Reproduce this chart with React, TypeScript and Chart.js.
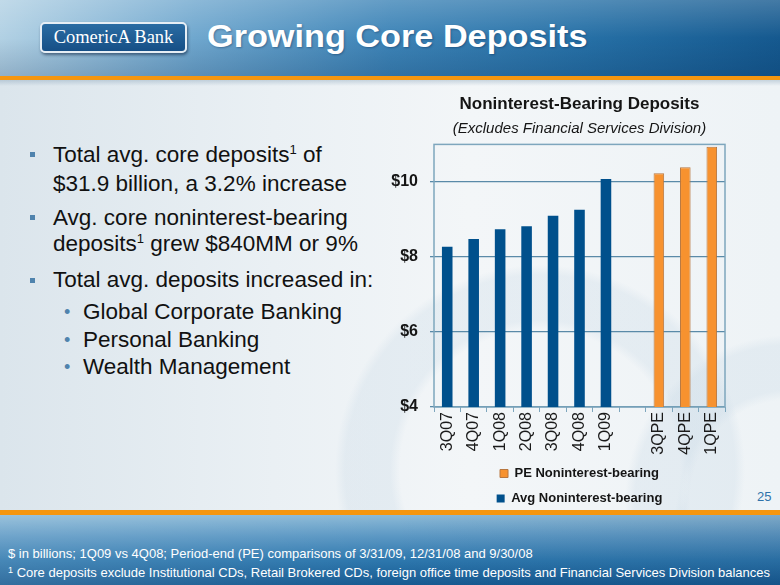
import React, { useEffect, useRef } from "react";
import { Chart, registerables } from "chart.js";

Chart.register(...registerables);

const categories = ["3Q07", "4Q07", "1Q08", "2Q08", "3Q08", "4Q08", "1Q09", "", "3QPE", "4QPE", "1QPE"];
const avgValues = [8.27, 8.48, 8.74, 8.82, 9.1, 9.26, 10.08, null, null, null, null];
const peValues = [null, null, null, null, null, null, null, null, 10.23, 10.39, 10.94];
const yMin = 4;
const yMax = 11;
const yStep = 2;

const chartTitle = "Noninterest-Bearing Deposits";
const chartSubtitle = "(Excludes Financial Services Division)";
const peLabel = "PE Noninterest-bearing";
const avgLabel = "Avg Noninterest-bearing";

const FONT = '"Liberation Sans", Arial, Helvetica, sans-serif';

const framePlugin = {
  id: "frame",
  beforeDatasetsDraw(chart: any) {
    const { ctx, chartArea } = chart;
    ctx.save();
    ctx.strokeStyle = "#7ea6bd";
    ctx.lineWidth = 1.5;
    ctx.strokeRect(chartArea.left, chartArea.top, chartArea.right - chartArea.left, chartArea.bottom - chartArea.top);
    ctx.restore();
  },
};

function DepositsChart() {
  const ref = useRef<HTMLCanvasElement | null>(null);
  useEffect(() => {
    if (!ref.current) return;
    const chart = new Chart(ref.current, {
      type: "bar",
      data: {
        labels: categories,
        datasets: [
          {
            label: peLabel,
            data: peValues,
            backgroundColor: "#f7922f",
            borderColor: "#b8773f",
            borderWidth: 1,
            barPercentage: 0.4,
            categoryPercentage: 1,
          },
          {
            label: avgLabel,
            data: avgValues,
            backgroundColor: "#00508c",
            borderColor: "#00508c",
            borderWidth: 0,
            barPercentage: 0.4,
            categoryPercentage: 1,
          },
        ],
      },
      options: {
        responsive: false,
        animation: false,
        devicePixelRatio: 1,
        layout: { padding: { left: 0, right: 13, top: 0, bottom: 0 } },
        plugins: {
          title: {
            display: true,
            fullSize: false,
            text: chartTitle,
            color: "#151515",
            font: { family: FONT, size: 17, weight: "bold" },
            padding: { top: 6, bottom: 0 },
          },
          subtitle: {
            display: true,
            fullSize: false,
            text: chartSubtitle,
            color: "#151515",
            font: { family: FONT, size: 15, style: "italic", weight: "normal" },
            padding: { top: 5, bottom: 7 },
          },
          legend: {
            display: true,
            fullSize: false,
            position: "bottom",
            labels: {
              boxWidth: 8,
              boxHeight: 8,
              padding: 12,
              color: "#151515",
              font: { family: FONT, size: 13, weight: "bold" },
            },
          },
          tooltip: { enabled: false },
        },
        scales: {
          x: {
            stacked: true,
            offset: true,
            grid: {
              display: true,
              drawOnChartArea: false,
              drawTicks: true,
              tickLength: 5,
              color: "#7ea6bd",
              offset: true,
            },
            border: { display: false },
            ticks: {
              autoSkip: false,
              minRotation: 90,
              maxRotation: 90,
              padding: 0,
              color: "#1a1a1a",
              font: { family: FONT, size: 16 },
            },
            afterFit(scale: any) {
              scale.height = 48;
            },
          },
          y: {
            stacked: true,
            min: yMin,
            max: yMax,
            grid: {
              color: "#5a8aa8",
              lineWidth: 1.3,
              tickLength: 4,
              drawTicks: true,
            },
            border: { display: false },
            ticks: {
              stepSize: yStep,
              includeBounds: false,
              padding: 12,
              color: "#151515",
              font: { family: FONT, size: 16, weight: "bold" },
              callback: (v: any) => "$" + v,
            },
            afterFit(scale: any) {
              scale.width = 46;
            },
          },
        },
      } as any,
      plugins: [framePlugin],
    });
    return () => chart.destroy();
  }, []);
  return <canvas ref={ref} width={350} height={427} style={{ position: "absolute", left: 388, top: 88, width: 350, height: 427 }} />;
}

const sq: React.CSSProperties = { position: "absolute", width: 5, height: 5, background: "#4f83ad" };
const bodyText: React.CSSProperties = {
  position: "absolute",
  left: 53,
  fontFamily: FONT,
  fontSize: 22.5,
  lineHeight: "26px",
  color: "#111",
  whiteSpace: "nowrap",
};
const subText: React.CSSProperties = { ...bodyText, left: 83 };
const dot: React.CSSProperties = {
  position: "absolute",
  left: 64,
  fontFamily: FONT,
  fontSize: 18,
  lineHeight: "26px",
  color: "#4f83ad",
};
const sup = (n: string) => (
  <span style={{ fontSize: 13, position: "relative", top: -8 }}>{n}</span>
);

export default function App() {
  return (
    <div
      style={{
        position: "absolute",
        left: 0,
        top: 0,
        width: 780,
        height: 585,
        overflow: "hidden",
        fontFamily: FONT,
        background:
          "radial-gradient(circle at 540px 470px, rgba(255,255,255,0) 140px, rgba(200,217,230,0.3) 150px, rgba(200,217,230,0.3) 195px, rgba(255,255,255,0) 205px), radial-gradient(circle at 790px 500px, rgba(255,255,255,0) 100px, rgba(200,217,230,0.3) 110px, rgba(200,217,230,0.3) 155px, rgba(255,255,255,0) 165px), linear-gradient(to right, #dbe5ec 0%, #eaf0f4 35%, #f3f6f8 60%, #eef3f6 100%)",
      }}
    >
      {/* header */}
      <div
        style={{
          position: "absolute",
          left: 0,
          top: 0,
          width: 780,
          height: 76,
          background:
            "linear-gradient(to bottom, rgba(255,255,255,0.2) 0%, rgba(255,255,255,0) 50%, rgba(0,30,70,0.18) 100%), linear-gradient(to right, #b2d1e4 0%, #6fa7ce 25%, #3d84b7 50%, #2670a6 75%, #15598f 100%)",
        }}
      />
      <div style={{ position: "absolute", left: 0, top: 76, width: 780, height: 4, background: "#f5960f" }} />
      <div style={{ position: "absolute", left: 0, top: 80, width: 780, height: 6, background: "linear-gradient(to bottom, rgba(120,150,175,0.35), rgba(120,150,175,0))" }} />
      {/* logo */}
      <div
        style={{
          position: "absolute",
          left: 40,
          top: 22,
          width: 143,
          height: 27,
          borderRadius: 5,
          border: "2px solid #e6eef5",
          background: "linear-gradient(to bottom, #2a6ca3, #164f86)",
          boxShadow: "1px 2px 3px rgba(0,20,50,0.5)",
          color: "#fff",
          fontFamily: '"Liberation Serif", "DejaVu Serif", serif',
          fontSize: 18.5,
          lineHeight: "27px",
          textAlign: "center",
          whiteSpace: "nowrap",
        }}
      >
        ComericA Bank
      </div>
      <div
        style={{
          position: "absolute",
          left: 207,
          top: 18,
          fontFamily: FONT,
          fontWeight: "bold",
          fontSize: 32,
          lineHeight: "36px",
          color: "#fff",
          whiteSpace: "nowrap",
          transform: "scaleX(1.07)",
          transformOrigin: "left center",
          textShadow: "1px 1px 2px rgba(0,30,70,0.35)",
        }}
      >
        Growing Core Deposits
      </div>

      {/* bullets */}
      <div style={{ ...sq, left: 30, top: 152 }} />
      <div style={{ ...bodyText, top: 142 }}>
        Total avg. core deposits{sup("1")} of
        <br />
        $31.9 billion, a 3.2% increase
      </div>
      <div style={{ ...sq, left: 30, top: 215 }} />
      <div style={{ ...bodyText, top: 205 }}>
        Avg. core noninterest-bearing
        <br />
        deposits{sup("1")} grew $840MM or 9%
      </div>
      <div style={{ ...sq, left: 30, top: 278 }} />
      <div style={{ ...bodyText, top: 267 }}>Total avg. deposits increased in:</div>
      <div style={{ ...dot, top: 299 }}>•</div>
      <div style={{ ...subText, top: 299 }}>Global Corporate Banking</div>
      <div style={{ ...dot, top: 327 }}>•</div>
      <div style={{ ...subText, top: 327 }}>Personal Banking</div>
      <div style={{ ...dot, top: 354 }}>•</div>
      <div style={{ ...subText, top: 354 }}>Wealth Management</div>

      <DepositsChart />

      <div style={{ position: "absolute", left: 757, top: 489, fontSize: 13, lineHeight: "16px", color: "#2f72aa" }}>25</div>

      {/* footer */}
      <div style={{ position: "absolute", left: 0, top: 510, width: 780, height: 5, background: "#f5960f" }} />
      <div
        style={{
          position: "absolute",
          left: 0,
          top: 515,
          width: 780,
          height: 70,
          background:
            "linear-gradient(to right, rgba(255,255,255,0.12), rgba(255,255,255,0) 50%, rgba(0,20,60,0.1)), linear-gradient(to bottom, #8cbad7 0%, #5c98c4 30%, #2d77ad 65%, #175a91 100%)",
        }}
      />
      <div style={{ position: "absolute", left: 8, top: 546, fontSize: 13, lineHeight: "15px", color: "#fff", whiteSpace: "nowrap" }}>
        $ in billions; 1Q09 vs 4Q08; Period-end (PE) comparisons of 3/31/09, 12/31/08 and 9/30/08
      </div>
      <div style={{ position: "absolute", left: 8, top: 565, fontSize: 13, lineHeight: "15px", color: "#fff", whiteSpace: "nowrap" }}>
        <span style={{ fontSize: 9, position: "relative", top: -4 }}>1</span> Core deposits exclude Institutional CDs, Retail Brokered CDs, foreign office time deposits and Financial Services Division balances
      </div>
    </div>
  );
}
